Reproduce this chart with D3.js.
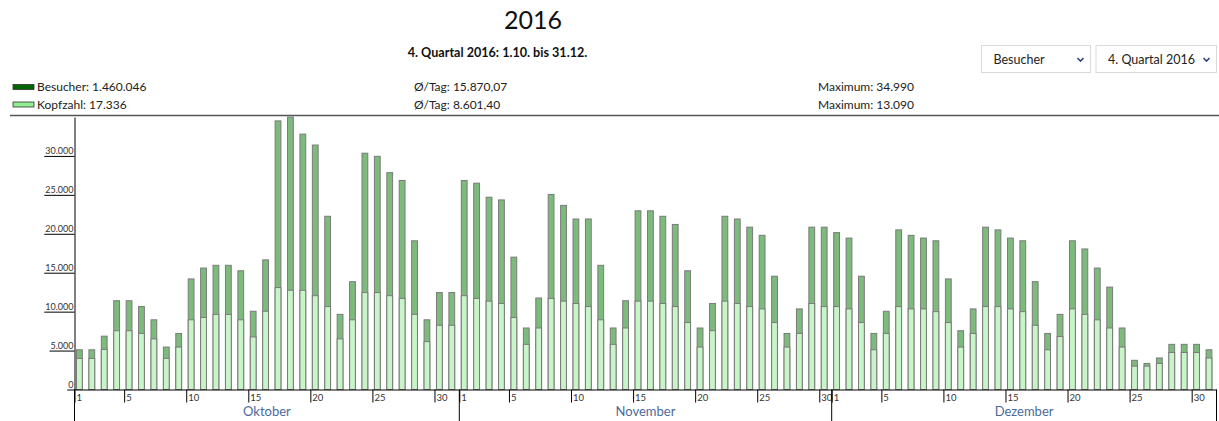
<!DOCTYPE html>
<html>
<head>
<meta charset="utf-8">
<script src="https://cdn.jsdelivr.net/npm/d3@7"></script>
<style>
  body { margin: 0; background: #fff; }
  svg text { font-family: Lato, "Open Sans", sans-serif; }
</style>
</head>
<body>
<svg id="chart" width="1219" height="421"></svg>
<script>
// Data
const months = ['Oktober', 'November', 'Dezember'];
const dayTicks = [1, 5, 10, 15, 20, 25, 30];
const yTicks = [0, 5000, 10000, 15000, 20000, 25000, 30000];

const besucher = [
  // Oktober
  5100, 5100, 6850, 11400, 11400, 10650, 8950, 5450, 7200, 14200,
  15600, 15950, 15950, 15250, 10050, 16650, 34500, 34990, 32800, 31400,
  22250, 9650, 13850, 30350, 29950, 27850, 26850, 19100, 8950, 12450, 12450,
  // November
  26850, 26500, 24700, 24350, 17000, 7900, 11750, 25050, 23650, 21900,
  21900, 15950, 7900, 11400, 22950, 22950, 22250, 21200, 15250, 7900,
  11050, 22250, 21900, 20850, 19800, 14550, 7200, 10350, 20850, 20850,
  // Dezember
  20150, 19450, 14550, 7200, 10050, 20500, 19800, 19450, 19100, 14200,
  7550, 10350, 20850, 20500, 19450, 19100, 13850, 7200, 9650, 19100,
  18050, 15600, 13150, 7900, 3750, 3350, 4050, 5800, 5800, 5800, 5100
];

const kopfzahl = [
  // Oktober
  4000, 4000, 5150, 7550, 7550, 7200, 6500, 4000, 5450, 8950,
  9250, 9650, 9650, 8950, 6750, 10050, 13090, 12750, 12750, 12050,
  10650, 6500, 8950, 12450, 12450, 12050, 11700, 9650, 6150, 8250, 8250,
  // November
  12050, 11700, 11350, 11050, 9250, 5800, 7900, 11700, 11350, 11050,
  10650, 8950, 5800, 7900, 11350, 11350, 11050, 10650, 8600, 5450,
  7550, 11350, 11050, 10650, 10350, 8600, 5450, 7200, 11050, 10650,
  // Dezember
  10650, 10350, 8600, 5100, 7200, 10650, 10350, 10350, 10000, 8600,
  5450, 7200, 10650, 10650, 10350, 10000, 8250, 5100, 6800, 10350,
  9650, 8950, 7900, 5450, 3000, 3000, 3350, 4750, 4750, 4750, 4050
];

const seriesNames = ['Besucher: 1.460.046', 'Kopfzahl: 17.336'];
const seriesAvg = ['Ø/Tag: 15.870,07', 'Ø/Tag: 8.601,40'];
const seriesMax = ['Maximum: 34.990', 'Maximum: 13.090'];
const selectLabels = ['Besucher', '4. Quartal 2016'];

const title = '2016';
const subtitle = '4. Quartal 2016: 1.10. bis 31.12.';

class QuarterChart {

  constructor(_svg) {
    this.svg = _svg;
    this.initVis();
  }

  initVis() {
    this.start = new Date(Date.UTC(2016, 9, 1));
    this.end = new Date(Date.UTC(2017, 0, 1));
    this.days = d3.utcDay.range(this.start, this.end);

    this.x = d3.scaleUtc()
      .domain([this.start, this.end])
      .range([74.5, 1216.5]);

    this.y = d3.scaleLinear()
      .domain([0, 35000])
      .range([389.5, 117]);

    this.de = d3.formatLocale({ decimal: ',', thousands: '.', grouping: [3], currency: ['', '€'] });

    this.swatch = ['#006400', '#90ee90'];
    this.barFill = ['#7dbb7d', '#c8f5c8'];
  }

  renderVis() {
    const svg = this.svg;
    const x = this.x, y = this.y;

    // Headline
    svg.append('text')
      .attr('x', 533).attr('y', 29)
      .attr('text-anchor', 'middle')
      .attr('font-size', 25)
      .attr('fill', '#111')
      .text(title);
    svg.append('text')
      .attr('x', 497.5).attr('y', 57)
      .attr('text-anchor', 'middle')
      .attr('font-size', 12.6)
      .attr('font-weight', 'bold')
      .attr('fill', '#111')
      .text(subtitle);

    // Fake dropdowns on the right
    const boxes = [{ x: 981.5, w: 109 }, { x: 1096, w: 120.5 }];
    selectLabels.forEach((s, i) => {
      const g = svg.append('g').attr('transform', `translate(${boxes[i].x},45.5)`);
      g.append('rect')
        .attr('width', boxes[i].w).attr('height', 27)
        .attr('fill', '#fff').attr('stroke', '#dadada');
      g.append('text')
        .attr('x', 12).attr('y', 18.5)
        .attr('font-size', 12.5).attr('fill', '#222')
        .text(s);
      const cx = boxes[i].w - 10;
      g.append('path')
        .attr('d', `M${cx - 3},12.5L${cx},15.5L${cx + 3},12.5`)
        .attr('fill', 'none').attr('stroke', '#2d4673').attr('stroke-width', 1.6);
    });

    // Legend rows
    seriesNames.forEach((name, i) => {
      const yy = 91 + i * 17.5;
      svg.append('rect')
        .attr('x', 13).attr('y', yy - 6.5)
        .attr('width', 21).attr('height', 5)
        .attr('fill', this.swatch[i]).attr('stroke', '#333').attr('stroke-width', 0.8);
      svg.append('text').attr('x', 37).attr('y', yy)
        .attr('font-size', 12).attr('fill', '#222').text(name);
      svg.append('text').attr('x', 414).attr('y', yy)
        .attr('font-size', 12).attr('fill', '#222').text(seriesAvg[i]);
      svg.append('text').attr('x', 818).attr('y', yy)
        .attr('font-size', 12).attr('fill', '#222').text(seriesMax[i]);
    });

    svg.append('line')
      .attr('x1', 10).attr('x2', 1219)
      .attr('y1', 115.5).attr('y2', 115.5)
      .attr('stroke', '#555').attr('stroke-width', 1.3);

    // Bars: Besucher behind, Kopfzahl in front
    const barW = 5.8;
    [besucher, kopfzahl].forEach((values, k) => {
      svg.append('g')
        .selectAll('rect')
        .data(this.days)
        .join('rect')
          .attr('x', d => x(d) + 2)
          .attr('width', barW)
          .attr('y', (d, i) => y(values[i]))
          .attr('height', (d, i) => y(0) - y(values[i]))
          .attr('fill', this.barFill[k])
          .attr('stroke', '#7a7a7a')
          .attr('stroke-width', 1);
    });

    // Y axis with underlined tick labels
    const fmt = this.de.format(',d');
    const yAxis = svg.append('g')
      .attr('transform', 'translate(74.5,0)')
      .call(d3.axisLeft(y).tickValues(yTicks).tickSize(0).tickFormat(fmt));
    yAxis.select('.domain').attr('stroke', '#000');
    yAxis.selectAll('.tick text')
      .attr('x', -1).attr('dy', null).attr('y', -2.5)
      .attr('font-size', 9).attr('fill', '#333');
    yAxis.selectAll('.tick').each(function() {
      const t = d3.select(this);
      const w = t.select('text').node().getComputedTextLength();
      t.append('line')
        .attr('x1', -w - 2).attr('x2', 0)
        .attr('stroke', '#000').attr('stroke-width', 1);
    });

    // X axis: day ticks per month
    const tickDates = [];
    d3.utcMonth.range(this.start, this.end).forEach(m => {
      dayTicks.forEach(day => tickDates.push(new Date(Date.UTC(m.getUTCFullYear(), m.getUTCMonth(), day))));
    });
    const xAxis = svg.append('g')
      .attr('transform', `translate(0,${y(0)})`)
      .call(d3.axisBottom(x).tickValues(tickDates).tickSize(13).tickSizeOuter(0)
        .tickFormat(d => d.getUTCDate()));
    xAxis.select('.domain').attr('stroke', '#000');
    xAxis.selectAll('.tick text')
      .attr('text-anchor', 'start')
      .attr('x', 1.5).attr('y', 11).attr('dy', null)
      .attr('font-size', 9.5).attr('fill', '#333');

    // Month separators and names
    const monthStarts = d3.utcMonth.range(this.start, d3.utcDay.offset(this.end, 1));
    svg.append('g')
      .selectAll('line')
      .data(monthStarts)
      .join('line')
        .attr('x1', d => x(d)).attr('x2', d => x(d))
        .attr('y1', y(0)).attr('y2', 421)
        .attr('stroke', '#000').attr('stroke-width', 1);

    svg.append('g')
      .selectAll('text')
      .data(months)
      .join('text')
        .attr('x', (d, i) => (x(monthStarts[i]) + x(monthStarts[i + 1])) / 2)
        .attr('y', 416)
        .attr('text-anchor', 'middle')
        .attr('font-size', 13)
        .attr('fill', '#4b6a9b')
        .text(d => d);
  }
}

const chart = new QuarterChart(d3.select('#chart'));
chart.renderVis();
</script>
</body>
</html>
